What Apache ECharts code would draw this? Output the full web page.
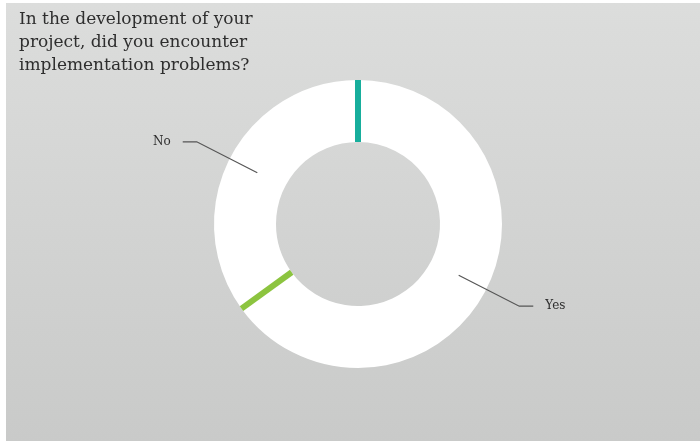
<!DOCTYPE html>
<html><head><meta charset="utf-8">
<script src="https://cdn.jsdelivr.net/npm/echarts@6/dist/echarts.min.js"></script>
<style>
html,body{margin:0;padding:0;background:#fff;}
#chart{position:absolute;left:6px;top:3px;width:694px;height:438px;}
</style></head>
<body><div id="chart"></div>
<script>
const titleText = 'In the development of your\nproject, did you encounter\nimplementation problems?';
const categories = ['Yes', 'No'];
const values = [65, 35];
const edgeColors = ['#17ae9c', '#8cc43f'];

const chart = echarts.init(document.getElementById('chart'));
const C = [352, 221], R0 = 82, R1 = 144;
const total = values.reduce((a, b) => a + b, 0);

chart.setOption({
  backgroundColor: new echarts.graphic.LinearGradient(0, 0, 0, 1, [
    {offset: 0, color: '#dcdddc'}, {offset: 1, color: '#c9cac9'}
  ]),
  animation: false,
  title: {
    text: titleText, left: 13, top: 5, padding: 0,
    textStyle: {fontFamily: 'DejaVu Serif', fontSize: 17, fontWeight: 'normal', color: '#2e2e2e', lineHeight: 23}
  },
  series: [
    {
      type: 'pie', center: C, radius: [R0, R1], startAngle: 90, clockwise: true,
      silent: true, label: {show: false}, labelLine: {show: false},
      itemStyle: {color: '#ffffff', borderWidth: 0},
      data: categories.map((c, i) => ({name: c, value: values[i]}))
    },
    {
      type: 'custom', coordinateSystem: 'none', silent: true, z: 3,
      data: values,
      renderItem: function (params, api) {
        const i = params.dataIndex;
        let cum = 0;
        for (let k = 0; k < i; k++) cum += values[k];
        const a = cum / total * Math.PI * 2;
        const s = Math.sin(a), c = -Math.cos(a);
        return {
          type: 'line',
          shape: {x1: C[0] + R0 * s, y1: C[1] + R0 * c, x2: C[0] + R1 * s, y2: C[1] + R1 * c},
          style: {stroke: edgeColors[i], lineWidth: 6, lineCap: 'butt'}
        };
      }
    },
    {
      type: 'pie', center: C, radius: [0, (R0 + R1) / 2], startAngle: 90, clockwise: true,
      silent: true, z: 4, avoidLabelOverlap: false,
      itemStyle: {color: 'rgba(0,0,0,0)'},
      label: {show: true, position: 'outside', fontFamily: 'DejaVu Serif', fontSize: 12, color: '#2e2e2e', distanceToLabelLine: 12},
      labelLine: {show: true, length: 68, length2: 14, smooth: false, lineStyle: {color: '#555', width: 1.2}},
      emphasis: {disabled: true},
      data: categories.map((c, i) => ({name: c, value: values[i]}))
    }
  ]
});
</script></body></html>
